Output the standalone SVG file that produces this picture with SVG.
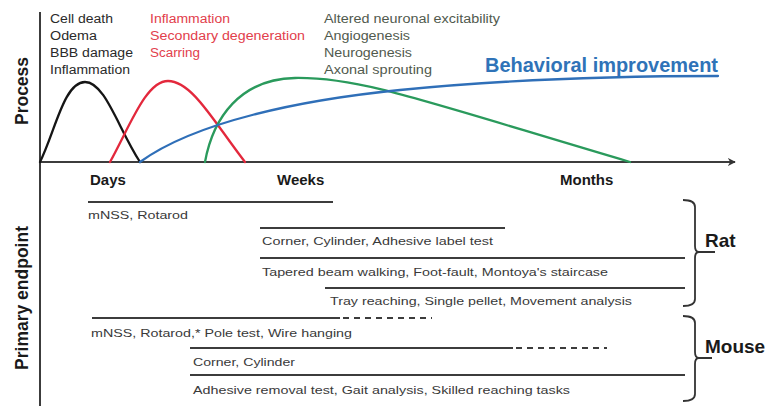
<svg xmlns="http://www.w3.org/2000/svg" width="771" height="406" viewBox="0 0 771 406">
<defs>
<marker id="arr" viewBox="0 0 10 10" refX="9" refY="5" markerWidth="8" markerHeight="8" markerUnits="userSpaceOnUse" orient="auto">
<path d="M0,0 L10,5 L0,10 L3,5 Z" fill="#333"/>
</marker>
<style>
text{font-family:"Liberation Sans",Arial,sans-serif}
.t{font-size:12px;fill:#2a2a2a}
.r{font-size:12px;fill:#e2404c}
.g{font-size:12px;fill:#515a4e}
.b{font-size:11.5px;fill:#3a3a3a}
.ax{font-size:15px;font-weight:bold;fill:#1a1a1a}
.lab{font-size:17.5px;font-weight:bold;fill:#1a1a1a}
.sp{font-size:19px;font-weight:bold;fill:#1a1a1a}
.ln{stroke:#3c3c3c;stroke-width:2;fill:none}
.dash{stroke:#3c3c3c;stroke-width:2;fill:none;stroke-dasharray:6 5}
.crv{fill:none;stroke-width:2.3;stroke-linecap:round}
.br{fill:none;stroke:#333;stroke-width:1.8}
</style>
</defs>
<rect width="771" height="406" fill="#fff"/>

<g id="connectors">
<line class="ln" x1="40" y1="12" x2="40" y2="406"/>
<line class="ln" x1="40" y1="162" x2="735" y2="162" marker-end="url(#arr)"/>
<path class="crv" stroke="#151515" d="M40,162 C55,132 64,82 85,82 C105,82 118,128 140,162"/>
<path class="crv" stroke="#e3283c" d="M110,162 C130,126 146,81 168,81 C192,81 214,122 245,162"/>
<path class="crv" stroke="#2a9a5c" d="M205,162 C213,118 240,79 295,78 C360,77 420,100 630,162"/>
<path class="crv" stroke="#2f6fb8" d="M140,162 C195,122 300,100 400,90 C500,80 600,76 718,76"/>
</g>

<g id="axis-labels">
<text class="lab" transform="translate(28,91) rotate(-90)" text-anchor="middle">Process</text>
<text class="lab" transform="translate(28,298) rotate(-90)" text-anchor="middle">Primary endpoint</text>
<text class="ax" x="90" y="185">Days</text>
<text class="ax" x="277" y="185">Weeks</text>
<text class="ax" x="560" y="185">Months</text>
</g>

<g id="acute">
<text class="t" x="50" y="23" textLength="63" lengthAdjust="spacingAndGlyphs">Cell death</text>
<text class="t" x="50" y="40" textLength="47" lengthAdjust="spacingAndGlyphs">Odema</text>
<text class="t" x="50" y="57" textLength="83" lengthAdjust="spacingAndGlyphs">BBB damage</text>
<text class="t" x="50" y="74" textLength="80" lengthAdjust="spacingAndGlyphs">Inflammation</text>
</g>

<g id="subacute">
<text class="r" x="150" y="23" textLength="80" lengthAdjust="spacingAndGlyphs">Inflammation</text>
<text class="r" x="150" y="40" textLength="155" lengthAdjust="spacingAndGlyphs">Secondary degeneration</text>
<text class="r" x="150" y="57" textLength="50" lengthAdjust="spacingAndGlyphs">Scarring</text>
</g>

<g id="chronic">
<text class="g" x="324" y="23" textLength="176" lengthAdjust="spacingAndGlyphs">Altered neuronal excitability</text>
<text class="g" x="324" y="40" textLength="86" lengthAdjust="spacingAndGlyphs">Angiogenesis</text>
<text class="g" x="324" y="57" textLength="88" lengthAdjust="spacingAndGlyphs">Neurogenesis</text>
<text class="g" x="324" y="74" textLength="108" lengthAdjust="spacingAndGlyphs">Axonal sprouting</text>
</g>

<g id="behavioral">
<text x="485" y="72" font-size="20" font-weight="bold" fill="#2f73b8" textLength="233" lengthAdjust="spacingAndGlyphs">Behavioral improvement</text>
</g>

<g id="rat">
<line class="ln" x1="88" y1="202" x2="333" y2="202"/>
<text class="b" x="88" y="219" textLength="100" lengthAdjust="spacingAndGlyphs">mNSS, Rotarod</text>
<line class="ln" x1="260" y1="228" x2="505" y2="228"/>
<text class="b" x="262" y="245" textLength="231" lengthAdjust="spacingAndGlyphs">Corner, Cylinder, Adhesive label test</text>
<line class="ln" x1="260" y1="258" x2="685" y2="258"/>
<text class="b" x="262" y="276" textLength="346" lengthAdjust="spacingAndGlyphs">Tapered beam walking, Foot-fault, Montoya's staircase</text>
<line class="ln" x1="325" y1="288" x2="685" y2="288"/>
<text class="b" x="330" y="305" textLength="302" lengthAdjust="spacingAndGlyphs">Tray reaching, Single pellet, Movement analysis</text>
<path class="br" d="M683,200 Q695,200 695,207 L695,246 Q695,252 699,252 L715,252 M699,252 Q695,252 695,258 L695,299 Q695,306 683,306"/>
<text class="sp" x="705" y="247">Rat</text>
</g>

<g id="mouse">
<line class="ln" x1="92" y1="318" x2="340" y2="318"/>
<line class="dash" x1="343" y1="318" x2="432" y2="318"/>
<text class="b" x="91" y="337" textLength="261" lengthAdjust="spacingAndGlyphs">mNSS, Rotarod,* Pole test, Wire hanging</text>
<line class="ln" x1="190" y1="348" x2="513" y2="348"/>
<line class="dash" x1="516" y1="348" x2="607" y2="348"/>
<text class="b" x="193" y="366" textLength="102" lengthAdjust="spacingAndGlyphs">Corner, Cylinder</text>
<line class="ln" x1="190" y1="375" x2="685" y2="375"/>
<text class="b" x="193" y="394" textLength="377" lengthAdjust="spacingAndGlyphs">Adhesive removal test, Gait analysis, Skilled reaching tasks</text>
<path class="br" d="M683,316 Q695,316 695,323 L695,352 Q695,358 699,358 L712,358 M699,358 Q695,358 695,364 L695,394 Q695,401 683,401"/>
<text class="sp" x="705" y="353" font-size="18.5">Mouse</text>
</g>
</svg>
